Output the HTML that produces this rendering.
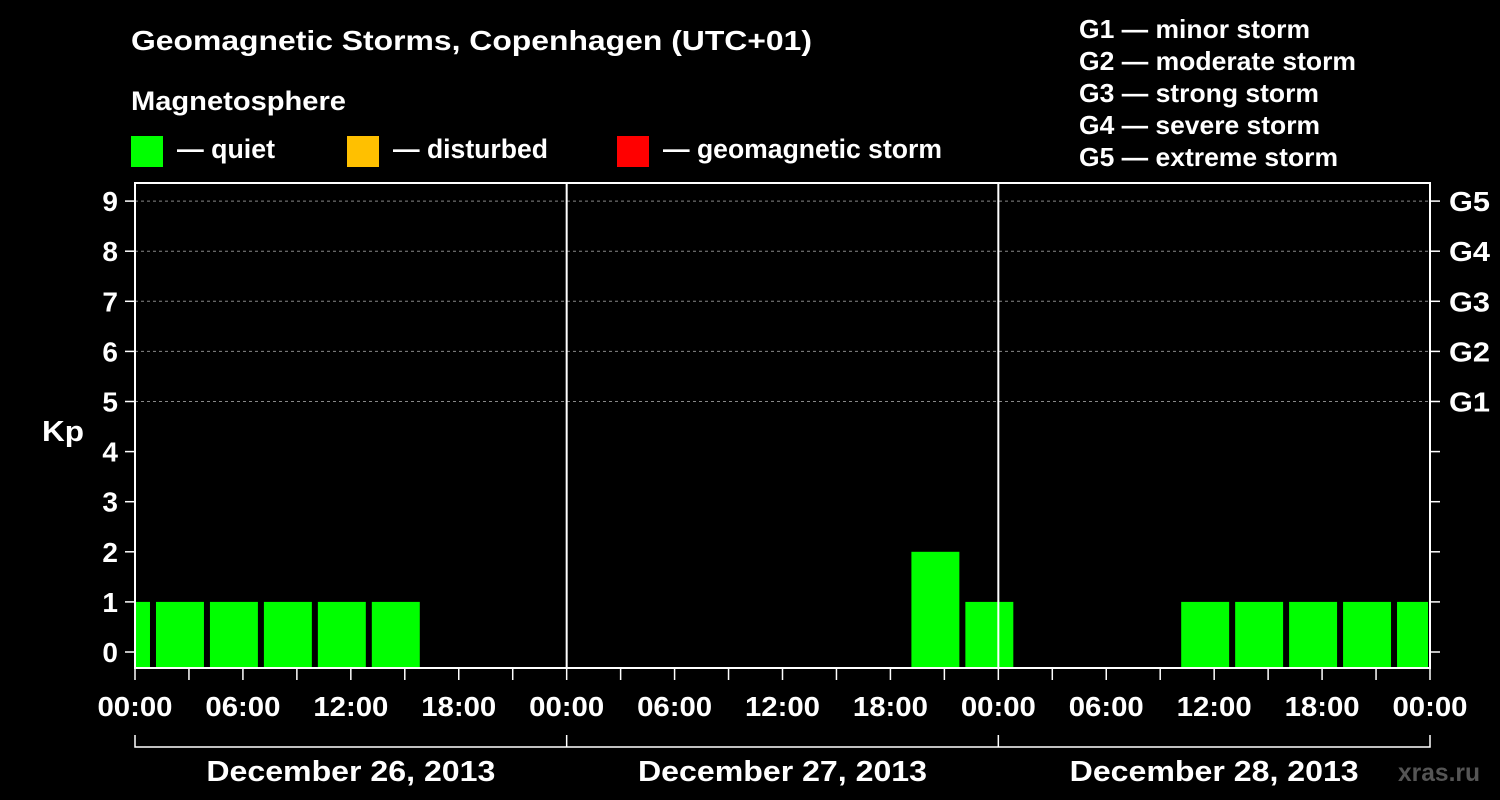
<!DOCTYPE html>
<html><head><meta charset="utf-8"><style>
body{margin:0;background:#000;}
svg{display:block;font-family:"Liberation Sans",Arial,sans-serif;font-weight:bold;fill:#fff;}
</style></head><body>
<svg id="chart" width="1500" height="800" viewBox="0 0 1500 800">
<rect width="1500" height="800" fill="#000"/>
<text x="131" y="50" font-size="28" textLength="681" lengthAdjust="spacingAndGlyphs">Geomagnetic Storms, Copenhagen (UTC+01)</text>
<text x="131" y="110" font-size="27" textLength="215" lengthAdjust="spacingAndGlyphs">Magnetosphere</text>
<g><rect x="131" y="136" width="32" height="31" fill="#00ff00"/><text x="177" y="158" font-size="27" textLength="98" lengthAdjust="spacingAndGlyphs">— quiet</text></g>
<g><rect x="347" y="136" width="32" height="31" fill="#ffc000"/><text x="393" y="158" font-size="27" textLength="155" lengthAdjust="spacingAndGlyphs">— disturbed</text></g>
<g><rect x="617" y="136" width="32" height="31" fill="#ff0000"/><text x="663" y="158" font-size="27" textLength="279" lengthAdjust="spacingAndGlyphs">— geomagnetic storm</text></g>
<g font-size="26">
<text x="1079" y="38" textLength="231" lengthAdjust="spacingAndGlyphs">G1 — minor storm</text>
<text x="1079" y="70" textLength="277" lengthAdjust="spacingAndGlyphs">G2 — moderate storm</text>
<text x="1079" y="102" textLength="240" lengthAdjust="spacingAndGlyphs">G3 — strong storm</text>
<text x="1079" y="134" textLength="241" lengthAdjust="spacingAndGlyphs">G4 — severe storm</text>
<text x="1079" y="166" textLength="259" lengthAdjust="spacingAndGlyphs">G5 — extreme storm</text>
</g>
<text x="42" y="441" font-size="29" textLength="42" lengthAdjust="spacingAndGlyphs">Kp</text>
<text x="1398" y="781" font-size="25" style="fill:#555" textLength="82" lengthAdjust="spacingAndGlyphs">xras.ru</text>
<g id="grid"></g><g id="bars"></g><g id="axes"></g>
</svg>
<script>
const kpValues=[1,1,1,1,1,1,0,0,0,0,0,0,0,0,0,2,1,0,0,0,1,1,1,1,1];
const slotStartHour=-2;
const yTicks=[0,1,2,3,4,5,6,7,8,9];
const gLabels=["G1","G2","G3","G4","G5"];
const xLabels=["00:00","06:00","12:00","18:00","00:00","06:00","12:00","18:00","00:00","06:00","12:00","18:00","00:00"];
const dayLabels=["December 26, 2013","December 27, 2013","December 28, 2013"];
const NS="http://www.w3.org/2000/svg";
const X0=135,X1=1430,TOP=183,BOT=668;
const x=h=>X0+(X1-X0)*h/72;
const y=v=>652-v*50.1;
function mk(tag,attrs,parent){const e=document.createElementNS(NS,tag);for(const k in attrs)e.setAttribute(k,attrs[k]);parent.appendChild(e);return e;}
const grid=document.getElementById('grid'),bars=document.getElementById('bars'),axes=document.getElementById('axes');
for(let v=5;v<=9;v++){const l=mk('line',{x1:X0,x2:X1,y1:y(v),y2:y(v),stroke:'#888','stroke-dasharray':'3,3','stroke-width':1},grid);

}
kpValues.forEach((v,i)=>{if(v<=0)return;let a=slotStartHour+3*i,b=a+3;let xa=x(Math.max(a,0)),xb=x(Math.min(b,72));
if(a>=0)xa+=3; if(b<=72)xb-=3; else xb-=2; if(a<0)xa+=1;
const r=mk('rect',{x:xa,y:y(v),width:xb-xa,height:y(0)-y(v)+16,fill:'#00ff00'},bars);

});
mk('rect',{x:X0,y:TOP,width:X1-X0,height:BOT-TOP,fill:'none',stroke:'#fff','stroke-width':2},axes);
[1,2].forEach(d=>{const l=mk('line',{x1:x(24*d),x2:x(24*d),y1:TOP,y2:BOT,stroke:'#fff','stroke-width':2},axes);

});
yTicks.forEach(v=>{mk('line',{x1:X0-10,x2:X0,y1:y(v),y2:y(v),stroke:'#fff','stroke-width':1.5},axes);
mk('line',{x1:X1,x2:X1+10,y1:y(v),y2:y(v),stroke:'#fff','stroke-width':1.5},axes);
const t=mk('text',{x:X0-17,y:y(v)+10,'font-size':28,'text-anchor':'end'},axes);t.textContent=v;

});
gLabels.forEach((g,i)=>{const t=mk('text',{x:1449,y:y(5+i)+10,'font-size':28,textLength:41,lengthAdjust:'spacingAndGlyphs'},axes);t.textContent=g;

});
for(let h=0;h<=72;h+=3){mk('line',{x1:x(h),x2:x(h),y1:BOT,y2:BOT+12,stroke:'#fff','stroke-width':1.5},axes);}
xLabels.forEach((s,i)=>{const t=mk('text',{x:x(6*i),y:716,'font-size':28,'text-anchor':'middle',textLength:75,lengthAdjust:'spacingAndGlyphs'},axes);t.textContent=s;

});
mk('polyline',{points:`${X0},735 ${X0},747 ${X1},747 ${X1},735`,fill:'none',stroke:'#fff','stroke-width':1.5},axes);
[1,2].forEach(d=>mk('line',{x1:x(24*d),x2:x(24*d),y1:735,y2:747,stroke:'#fff','stroke-width':1.5},axes));
dayLabels.forEach((s,i)=>{const t=mk('text',{x:x(24*i+12),y:781,'font-size':29,'text-anchor':'middle',textLength:289,lengthAdjust:'spacingAndGlyphs'},axes);t.textContent=s;

});
</script>
</body></html>
